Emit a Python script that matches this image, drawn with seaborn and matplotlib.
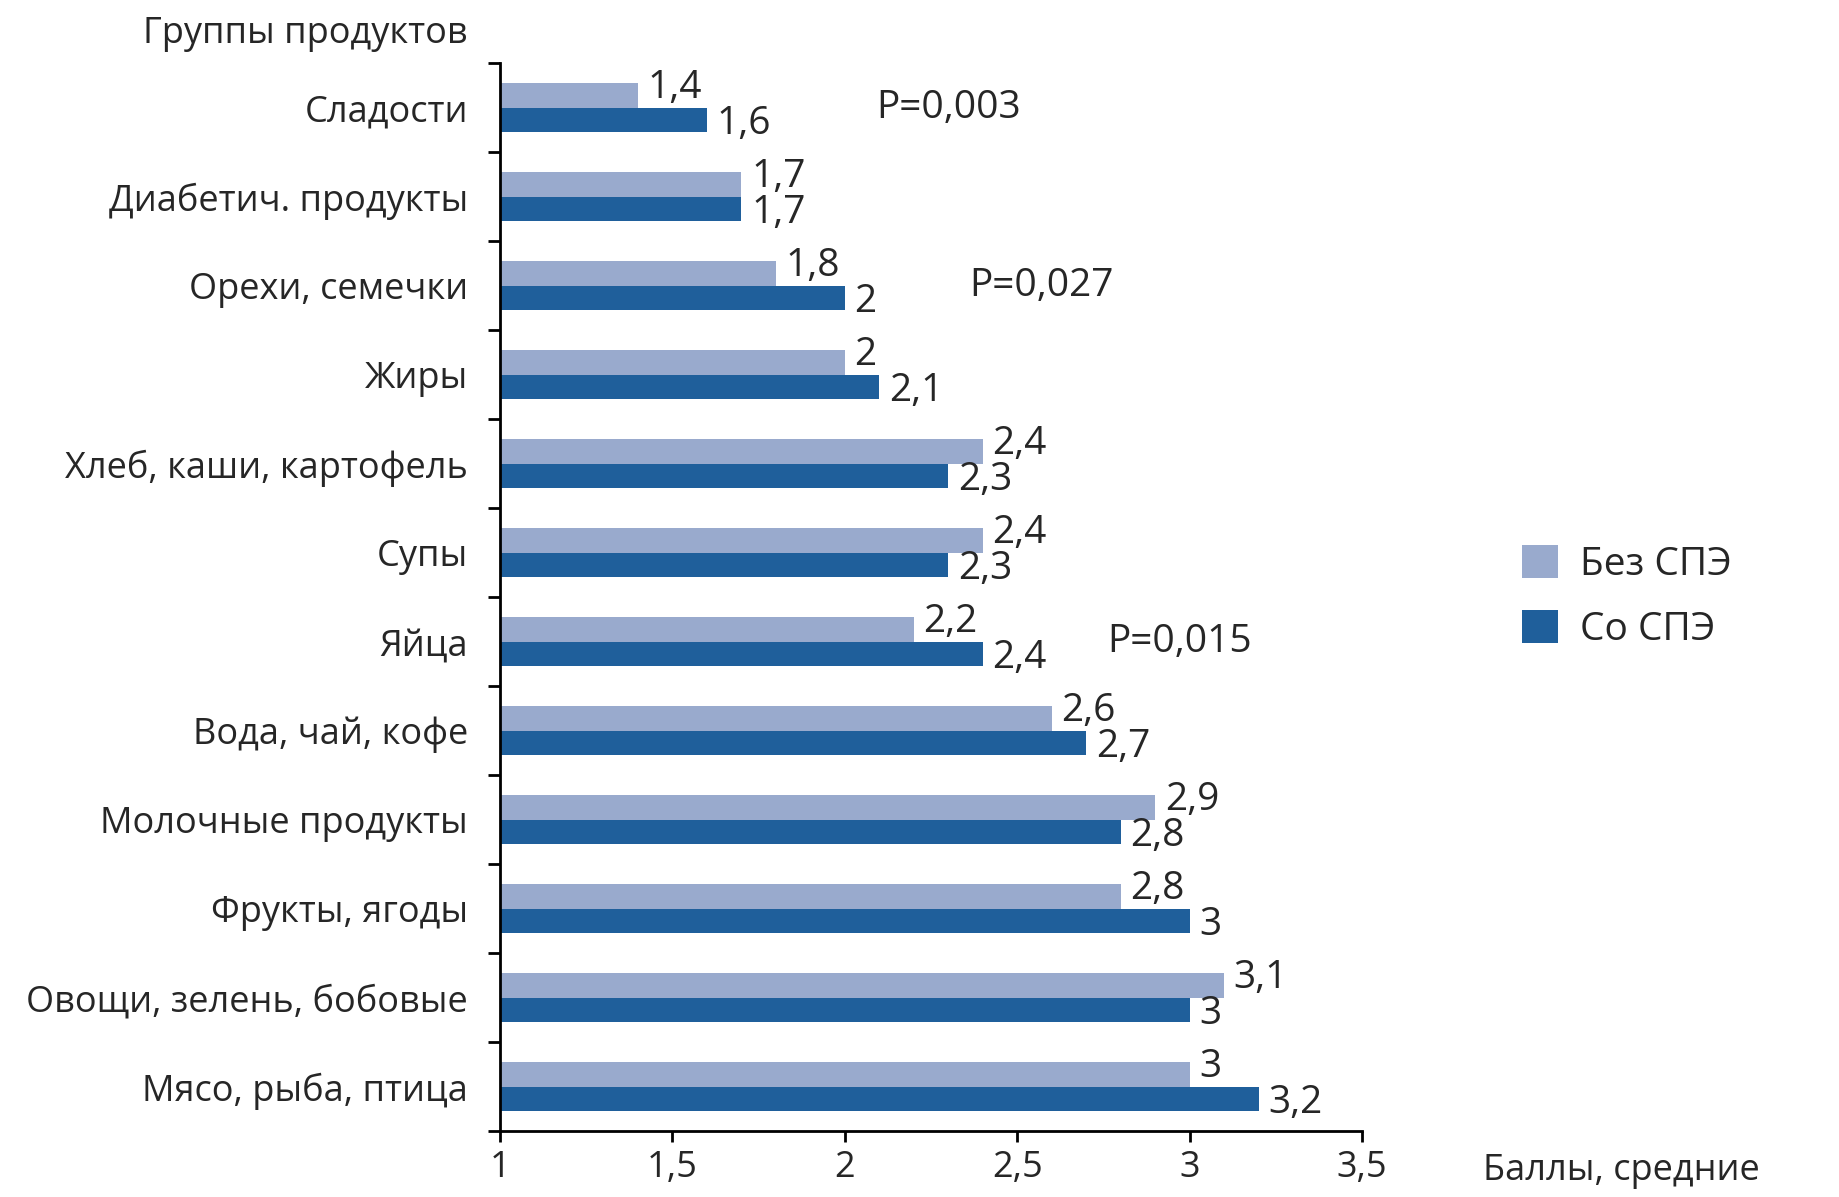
import numpy as np
import pandas as pd
import matplotlib
matplotlib.use("Agg")
import matplotlib.pyplot as plt
from matplotlib.ticker import FuncFormatter
import seaborn as sns

# ------------------------------------------------------------------
# Data
# ------------------------------------------------------------------
groups = [
    "Сладости", "Диабетич. продукты", "Орехи, семечки", "Жиры",
    "Хлеб, каши, картофель", "Супы", "Яйца", "Вода, чай, кофе",
    "Молочные продукты", "Фрукты, ягоды", "Овощи, зелень, бобовые",
    "Мясо, рыба, птица",
]
series_names = ["Без СПЭ", "Со СПЭ"]
without_spe = [1.4, 1.7, 1.8, 2.0, 2.4, 2.4, 2.2, 2.6, 2.9, 2.8, 3.1, 3.0]
with_spe    = [1.6, 1.7, 2.0, 2.1, 2.3, 2.3, 2.4, 2.7, 2.8, 3.0, 3.0, 3.2]
p_groups = ["Сладости", "Орехи, семечки", "Яйца"]
p_labels = ["P=0,003", "P=0,027", "P=0,015"]
p_x      = [2.09, 2.36, 2.76]
x_ticks  = [1, 1.5, 2, 2.5, 3, 3.5]

colors = ["#99AACD", "#1F5F9B"]

df = pd.DataFrame({
    "group": groups * 2,
    "series": [series_names[0]] * len(groups) + [series_names[1]] * len(groups),
    "value": without_spe + with_spe,
})


def comma(v):
    return f"{v:g}".replace(".", ",")


sns.set_style("white")
plt.rcParams["font.family"] = ["Open Sans", "DejaVu Sans"]

fig = plt.figure(figsize=(18.4, 11.97), dpi=100)
ax = fig.add_axes([0.2717, 0.0551, 0.4685, 0.8922])

sns.barplot(
    data=df, y="group", x="value", hue="series", order=groups,
    hue_order=series_names, palette=colors, orient="h",
    width=0.56, gap=0, saturation=1, linewidth=0, ax=ax,
)

ax.set_xlim(1, 3.5)
ax.set_ylim(len(groups) - 0.5, -0.5)
ax.set_xticks(x_ticks)
ax.xaxis.set_major_formatter(FuncFormatter(lambda v, _: comma(v)))
ax.set_yticks(np.arange(-0.5, len(groups), 1), minor=True)
ax.set_xlabel("")
ax.set_ylabel("")

for side in ["top", "right"]:
    ax.spines[side].set_visible(False)
for side in ["left", "bottom"]:
    ax.spines[side].set_color("black")
    ax.spines[side].set_linewidth(2)

ax.tick_params(axis="y", which="major", left=True, length=0, pad=23, labelsize=26)
ax.tick_params(axis="y", which="minor", left=True, length=8.6, width=2,
               color="black", direction="out")
ax.tick_params(axis="x", which="major", bottom=True, length=8, width=2,
               color="black", direction="out", pad=6, labelsize=26)

# value labels next to each bar
offsets = [-1.8, -10.4]
for container, dy in zip(ax.containers, offsets):
    for bar in container:
        v = bar.get_width()
        yc = bar.get_y() + bar.get_height() / 2
        ax.annotate(comma(round(v, 1)), (v, yc), xytext=(7, dy),
                    textcoords="offset points", ha="left", va="baseline",
                    fontsize=28)

# significance marks
for g, lab, x in zip(p_groups, p_labels, p_x):
    ax.text(x, groups.index(g), lab, ha="left", va="center", fontsize=28)

# axis titles
fig.text(0.2543, 0.964, "Группы продуктов", ha="right", va="baseline", fontsize=26)
ax.annotate("Баллы, средние", (1.14, -0.0459), xycoords="axes fraction",
            ha="left", va="baseline", fontsize=26)

sns.move_legend(
    ax, loc="center left", bbox_to_anchor=(1.1856, 0.5), frameon=False,
    title=None, fontsize=28, borderaxespad=0, borderpad=0,
    handlelength=0.93, handleheight=0.93, handletextpad=0.55, labelspacing=0.66,
)

fig.savefig("out.png", dpi=100)
